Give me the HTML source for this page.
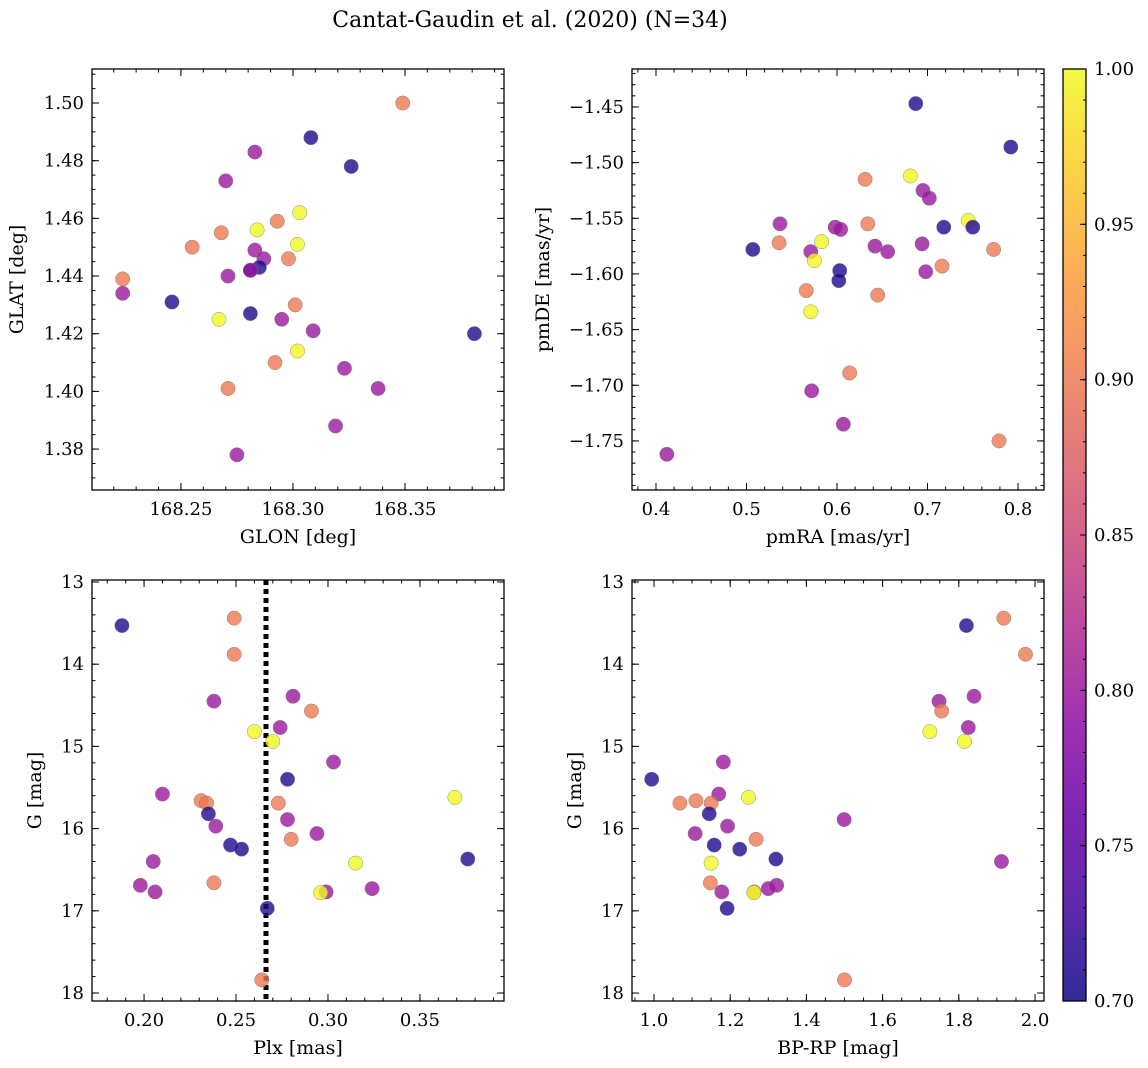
<!DOCTYPE html>
<html><head><meta charset="utf-8"><style>
body{margin:0;background:#fff;}
svg{display:block;font-family:"DejaVu Serif","Liberation Serif",serif;}
</style></head><body>
<svg id="fig" width="1148" height="1068" viewBox="0 0 1148 1068" xmlns="http://www.w3.org/2000/svg">
<defs>
<linearGradient id="plasma" x1="0" y1="1" x2="0" y2="0">
<stop offset="0" stop-color="#0d0887"/><stop offset="0.1" stop-color="#41049d"/><stop offset="0.2" stop-color="#6a00a8"/><stop offset="0.3" stop-color="#8f0da4"/><stop offset="0.4" stop-color="#b12a90"/><stop offset="0.5" stop-color="#cc4778"/><stop offset="0.6" stop-color="#e16462"/><stop offset="0.7" stop-color="#f2844b"/><stop offset="0.8" stop-color="#fca636"/><stop offset="0.9" stop-color="#fcce25"/><stop offset="1" stop-color="#f0f921"/>
</linearGradient>
</defs>
<text x="530" y="27" font-size="22" text-anchor="middle">Cantat-Gaudin et al. (2020) (N=34)</text>
</svg>
<script>
// ---- data ----
const glon=[168.349,168.308,168.326,168.283,168.270,168.303,168.284,168.293,168.268,168.255,168.302,168.283,168.287,168.298,168.285,168.281,168.281,168.271,168.224,168.224,168.246,168.301,168.281,168.295,168.267,168.309,168.381,168.302,168.292,168.323,168.271,168.338,168.319,168.275];
const glat=[1.500,1.488,1.478,1.483,1.473,1.462,1.456,1.459,1.455,1.450,1.451,1.449,1.446,1.446,1.443,1.442,1.442,1.440,1.439,1.434,1.431,1.430,1.427,1.425,1.425,1.421,1.420,1.414,1.410,1.408,1.401,1.401,1.388,1.378];
const cTL=[0.9,0.71,0.71,0.8,0.8,1.0,1.0,0.9,0.9,0.9,1.0,0.8,0.8,0.9,0.71,0.71,0.8,0.8,0.9,0.8,0.71,0.9,0.71,0.8,1.0,0.8,0.71,1.0,0.9,0.8,0.9,0.8,0.8,0.8];
const pmra=[0.687,0.792,0.681,0.631,0.695,0.702,0.745,0.537,0.634,0.718,0.750,0.598,0.604,0.583,0.536,0.642,0.507,0.773,0.571,0.656,0.575,0.716,0.603,0.698,0.602,0.566,0.645,0.571,0.614,0.572,0.607,0.779,0.412,0.694];
const pmde=[-1.447,-1.486,-1.512,-1.515,-1.525,-1.532,-1.552,-1.555,-1.555,-1.558,-1.558,-1.558,-1.560,-1.571,-1.572,-1.575,-1.578,-1.578,-1.580,-1.580,-1.588,-1.593,-1.597,-1.598,-1.606,-1.615,-1.619,-1.634,-1.689,-1.705,-1.735,-1.750,-1.762,-1.573];
const cTR=[0.71,0.71,1.0,0.9,0.8,0.8,1.0,0.8,0.9,0.71,0.71,0.8,0.8,1.0,0.9,0.8,0.71,0.9,0.8,0.8,1.0,0.9,0.71,0.8,0.71,0.9,0.9,1.0,0.9,0.8,0.8,0.9,0.8,0.8];
const plx=[0.188,0.249,0.249,0.281,0.238,0.291,0.274,0.260,0.270,0.303,0.278,0.210,0.369,0.231,0.234,0.273,0.235,0.278,0.239,0.294,0.280,0.247,0.253,0.376,0.205,0.315,0.198,0.238,0.206,0.324,0.299,0.296,0.267,0.264];
const gmag=[13.53,13.44,13.88,14.39,14.45,14.57,14.77,14.82,14.94,15.19,15.40,15.58,15.62,15.66,15.69,15.69,15.82,15.89,15.97,16.06,16.13,16.20,16.25,16.37,16.40,16.42,16.69,16.66,16.77,16.73,16.77,16.78,16.97,17.84];
const cBL=[0.71,0.9,0.9,0.8,0.8,0.9,0.8,1.0,1.0,0.8,0.71,0.8,1.0,0.9,0.9,0.9,0.71,0.8,0.8,0.8,0.9,0.71,0.71,0.71,0.8,1.0,0.8,0.9,0.8,0.8,0.8,1.0,0.71,0.9];
const bprp=[1.820,1.918,1.975,1.840,1.748,1.755,1.825,1.724,1.815,1.182,0.994,1.170,1.248,1.110,1.068,1.150,1.145,1.499,1.193,1.108,1.268,1.158,1.225,1.320,1.912,1.150,1.322,1.148,1.178,1.300,1.263,1.262,1.192,1.500];
const gmag2=[13.53,13.44,13.88,14.39,14.45,14.57,14.77,14.82,14.94,15.19,15.40,15.58,15.62,15.66,15.69,15.69,15.82,15.89,15.97,16.06,16.13,16.20,16.25,16.37,16.40,16.42,16.69,16.66,16.77,16.73,16.77,16.78,16.97,17.84];
const cBR=[0.71,0.9,0.9,0.8,0.8,0.9,0.8,1.0,1.0,0.8,0.71,0.8,1.0,0.9,0.9,0.9,0.71,0.8,0.8,0.8,0.9,0.71,0.71,0.71,0.8,1.0,0.8,0.9,0.8,0.8,0.9,1.0,0.71,0.9];
const plxLine=[0.2663];
const cbarTicks=[0.70,0.75,0.80,0.85,0.90,0.95,1.00];

const NS="http://www.w3.org/2000/svg";
const svg=document.getElementById('fig');
const TF=18, LF=19;
function mk(tag,attrs,parent){const e=document.createElementNS(NS,tag);for(const k in attrs)e.setAttribute(k,attrs[k]);(parent||svg).appendChild(e);return e;}
const stops=[[0,[13,8,135]],[0.1,[65,4,157]],[0.2,[106,0,168]],[0.3,[143,13,164]],[0.4,[177,42,144]],[0.5,[204,71,120]],[0.6,[225,100,98]],[0.7,[242,132,75]],[0.8,[252,166,54]],[0.9,[252,206,37]],[1,[240,249,33]]];
function plasma(v){let t=Math.max(0,Math.min(1,(v-0.7)/0.3));for(let i=0;i<stops.length-1;i++){if(t<=stops[i+1][0]){const a=stops[i],b=stops[i+1],f=(t-a[0])/(b[0]-a[0]);return 'rgb('+a[1].map((c,j)=>Math.round(c+(b[1][j]-c)*f)).join(',')+')';}}return 'rgb(240,249,33)';}

function panel(o){
  const g=mk('g',{});
  
  
  const sx=v=>o.x0+(v-o.xmin)/(o.xmax-o.xmin)*o.w;
  const sy=o.invert?(v=>o.y0+(v-o.ymin)/(o.ymax-o.ymin)*o.h):(v=>o.y0+o.h-(v-o.ymin)/(o.ymax-o.ymin)*o.h);
  const fmt=(v,d)=>v.toFixed(d).replace('-','\u2212');
  function ticks(min,max,step,lenf,isX,labels,dec){
    const start=Math.ceil(min/step-1e-6);
    for(let k=start;k*step<=max+1e-9;k++){
      const v=k*step;
      if(isX){const x=sx(v);
        mk('line',{x1:x,x2:x,y1:o.y0+o.h,y2:o.y0+o.h-lenf,stroke:'#000','stroke-width':1},g);
        mk('line',{x1:x,x2:x,y1:o.y0,y2:o.y0+lenf,stroke:'#000','stroke-width':1},g);
        if(labels){const t=mk('text',{x:x,y:o.y0+o.h+25,'font-size':TF,'text-anchor':'middle'},g);t.textContent=fmt(v,dec);
          
          }
      } else {const y=sy(v);
        mk('line',{x1:o.x0,x2:o.x0+lenf,y1:y,y2:y,stroke:'#000','stroke-width':1},g);
        mk('line',{x1:o.x0+o.w,x2:o.x0+o.w-lenf,y1:y,y2:y,stroke:'#000','stroke-width':1},g);
        if(labels){const t=mk('text',{x:o.x0-8,y:y+6,'font-size':TF,'text-anchor':'end'},g);t.textContent=fmt(v,dec);
          
          }
      }
    }
  }
  ticks(o.xmin,o.xmax,o.xminor,3.5,true,false);
  ticks(o.xmin,o.xmax,o.xmajor,7,true,true,o.xdec);
  ticks(Math.min(o.ymin,o.ymax),Math.max(o.ymin,o.ymax),o.yminor,3.5,false,false);
  ticks(Math.min(o.ymin,o.ymax),Math.max(o.ymin,o.ymax),o.ymajor,7,false,true,o.ydec);
  if(o.vline){o.vline.forEach(v=>{const l=mk('line',{x1:sx(v),x2:sx(v),y1:o.y0,y2:o.y0+o.h,stroke:'#000','stroke-width':5,'stroke-dasharray':'5,4'},g);
    
    });}
  o.xs.forEach((v,i)=>{const c=mk('circle',{cx:sx(v),cy:sy(o.ys[i]),r:7.2,fill:plasma(o.cs[i]),'fill-opacity':0.8,stroke:'#777','stroke-width':0.5,'stroke-opacity':0.8},g);
    
    });
  mk('rect',{x:o.x0,y:o.y0,width:o.w,height:o.h,fill:'none',stroke:'#000','stroke-width':1.3},g);
  const xl=mk('text',{x:o.x0+o.w/2,y:o.y0+o.h+53,'font-size':LF,'text-anchor':'middle'},g);xl.textContent=o.xlabel;
  
  
  const yl=mk('text',{x:o.ylx,y:o.y0+o.h/2,'font-size':LF,'text-anchor':'middle',transform:`rotate(-90 ${o.ylx} ${o.y0+o.h/2})`},g);yl.textContent=o.ylabel;
  
  
}
panel({name:'glon-glat-panel',x0:92,y0:69,w:412,h:421,xmin:168.2103,xmax:168.3942,ymin:1.3658,ymax:1.5118,xmajor:0.05,xminor:0.01,xdec:2,ymajor:0.02,yminor:0.005,ydec:2,xs:glon,ys:glat,cs:cTL,xlabel:'GLON [deg]',ylabel:'GLAT [deg]',ylx:23});
panel({name:'pm-panel',x0:632,y0:69,w:412,h:421,xmin:0.3735,xmax:0.8287,ymin:-1.7941,ymax:-1.4159,xmajor:0.1,xminor:0.02,xdec:1,ymajor:0.05,yminor:0.01,ydec:2,xs:pmra,ys:pmde,cs:cTR,xlabel:'pmRA [mas/yr]',ylabel:'pmDE [mas/yr]',ylx:549});
panel({name:'plx-g-panel',x0:92,y0:580,w:412,h:421,xmin:0.1717,xmax:0.3957,ymin:12.976,ymax:18.097,invert:true,xmajor:0.05,xminor:0.01,xdec:2,ymajor:1,yminor:0.2,ydec:0,xs:plx,ys:gmag,cs:cBL,xlabel:'Plx [mas]',ylabel:'G [mag]',ylx:41,vline:plxLine});
panel({name:'cmd-panel',x0:632,y0:580,w:412,h:421,xmin:0.9423,xmax:2.0236,ymin:12.976,ymax:18.097,invert:true,xmajor:0.2,xminor:0.05,xdec:1,ymajor:1,yminor:0.2,ydec:0,xs:bprp,ys:gmag2,cs:cBR,xlabel:'BP-RP [mag]',ylabel:'G [mag]',ylx:581});
// colorbar
const cb=mk('g',{});


mk('rect',{x:1063,y:69,width:23,height:932,fill:'url(#plasma)','fill-opacity':0.85},cb);
cbarTicks.forEach(v=>{const y=1001-(v-0.7)/0.3*932;
  mk('line',{x1:1086,x2:1080,y1:y,y2:y,stroke:'#000'},cb);
  const t=mk('text',{x:1094,y:y+6,'font-size':TF},cb);t.textContent=v.toFixed(2);
  
  });
for(let v=0.70;v<=1.0001;v+=0.01){const y=1001-(v-0.7)/0.3*932;mk('line',{x1:1086,x2:1083,y1:y,y2:y,stroke:'#000'},cb);}
mk('rect',{x:1063,y:69,width:23,height:932,fill:'none',stroke:'#000','stroke-width':1.3},cb);
</script>
</body></html>
